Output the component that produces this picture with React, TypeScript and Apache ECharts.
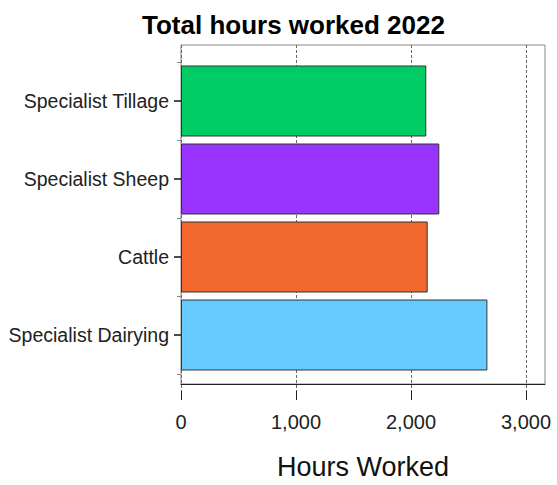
import React, { useEffect, useRef } from "react";
import * as echarts from "echarts";

const categories = ["Specialist Tillage", "Specialist Sheep", "Cattle", "Specialist Dairying"];
const hoursWorked = [2133, 2246, 2145, 2664];
const barColors = ["#00CC66", "#9933FF", "#F2672E", "#66CCFF"];
const xTickMax = 3000;
const xMax = 3165;

const FONT = "'Liberation Sans Narrow', 'Arial Narrow', 'Liberation Sans', sans-serif";

export default function App() {
  const ref = useRef<HTMLDivElement>(null);
  useEffect(() => {
    document.body.style.margin = "0";
    const chart = echarts.init(ref.current!, null, { renderer: "svg" });
    chart.setOption({
      animation: false,
      backgroundColor: "#ffffff",
      title: {
        text: "Total hours worked 2022",
        left: 137,
        top: 7,
        textStyle: { fontFamily: FONT, fontWeight: "bold", fontSize: 26, color: "#000" },
      },
      grid: [
        { left: 181, right: 12, top: 45, bottom: 94, show: true, borderColor: "#888", borderWidth: 1, backgroundColor: "transparent" },
        { left: 181, right: 31, top: 45, bottom: 94 },
        { left: 181, right: 12, top: 62, bottom: 111 },
      ],
      xAxis: [
        {
          type: "value",
          gridIndex: 0,
          min: 0,
          max: xMax,
          axisLine: { show: true, lineStyle: { color: "#222", width: 1 } },
          axisTick: { show: false },
          axisLabel: { show: false },
          splitLine: { show: false },
          name: "Hours Worked",
          nameLocation: "middle",
          nameGap: 69,
          nameTextStyle: { fontFamily: FONT, fontSize: 27, color: "#111" },
        },
        {
          type: "value",
          gridIndex: 1,
          min: 0,
          max: xTickMax,
          interval: 1000,
          axisLine: { show: false },
          axisTick: { show: true, length: 9, lineStyle: { color: "#222" } },
          axisLabel: {
            fontFamily: FONT,
            fontSize: 20,
            color: "#222",
            margin: 21,
            formatter: (v: number) => v.toLocaleString("en-US"),
          },
          splitLine: { show: true, lineStyle: { color: "#666", type: [3, 2], width: 1 } },
        },
        { type: "value", gridIndex: 2, min: 0, max: xMax, show: false, splitLine: { show: false } },
      ],
      yAxis: [
        { type: "value", gridIndex: 0, show: false, splitLine: { show: false } },
        { type: "value", gridIndex: 1, show: false, splitLine: { show: false } },
        {
          type: "category",
          gridIndex: 2,
          inverse: true,
          position: "left",
          data: categories,
          axisLine: { show: false },
          axisTick: { show: true, length: 4, lineStyle: { color: "#888" } },
          axisLabel: { fontFamily: FONT, fontSize: 19.5, color: "#222", margin: 12 },
          splitLine: { show: false },
        },
        {
          type: "category",
          gridIndex: 2,
          inverse: true,
          position: "left",
          data: categories,
          axisLine: { show: false },
          axisTick: { show: true, alignWithLabel: true, length: 7, lineStyle: { color: "#111", width: 1.5 } },
          axisLabel: { show: false },
          splitLine: { show: false },
        },
      ],
      series: [
        {
          type: "bar",
          xAxisIndex: 2,
          yAxisIndex: 2,
          barCategoryGap: "9%",
          data: hoursWorked.map((v, i) => ({
            value: v,
            itemStyle: { color: barColors[i], borderColor: "#333", borderWidth: 1 },
          })),
        },
      ],
    });
    return () => chart.dispose();
  }, []);
  return <div ref={ref} style={{ width: 557, height: 485 }} />;
}
